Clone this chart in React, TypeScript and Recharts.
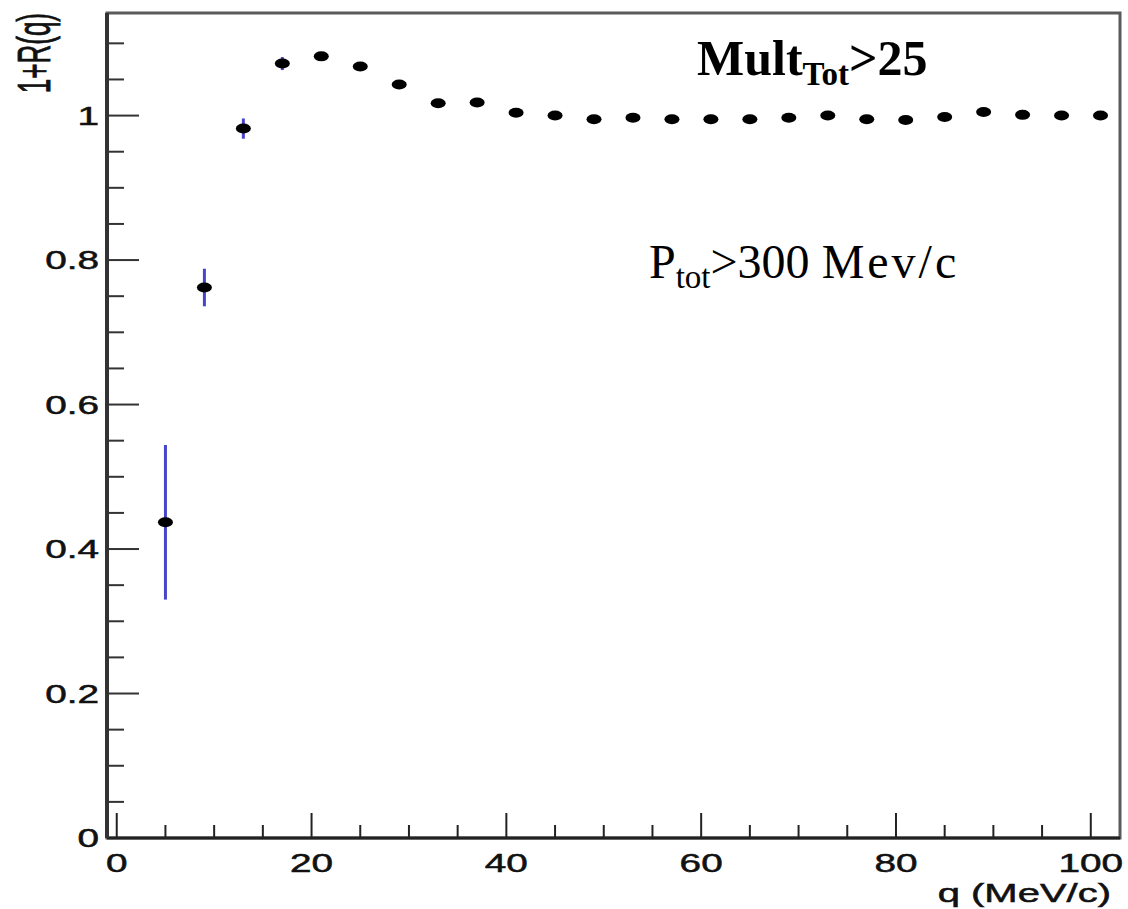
import { ScatterChart, Scatter, XAxis, YAxis, ErrorBar, ReferenceArea, Customized } from 'recharts';

// q bins (MeV/c) and measured 1+R(q)
const qValues = [5, 9, 13, 17, 21, 25, 29, 33, 37, 41, 45, 49, 53, 57, 61, 65, 69, 73, 77, 81, 85, 89, 93, 97, 101];
const ratioValues = [
  0.437, 0.762, 0.982, 1.072, 1.082, 1.068, 1.043, 1.017, 1.018, 1.004, 1.0, 0.995, 0.997,
  0.995, 0.995, 0.995, 0.997, 1.0, 0.995, 0.994, 0.998, 1.005, 1.001, 1.0, 1.0,
];
const ratioErrors = [
  0.107, 0.026, 0.014, 0.009, 0.006, 0.006, 0.005, 0.005, 0.005, 0.005, 0.005, 0.005, 0.005,
  0.005, 0.005, 0.005, 0.005, 0.005, 0.005, 0.005, 0.005, 0.005, 0.005, 0.005, 0.005,
];

const xTicks = [0, 5, 10, 15, 20, 25, 30, 35, 40, 45, 50, 55, 60, 65, 70, 75, 80, 85, 90, 95, 100];
const xLabels = [0, 20, 40, 60, 80, 100];
const yTicks = [
  0, 0.05, 0.1, 0.15, 0.2, 0.25, 0.3, 0.35, 0.4, 0.45, 0.5, 0.55, 0.6, 0.65, 0.7, 0.75, 0.8, 0.85,
  0.9, 0.95, 1, 1.05, 1.1,
];
const yLabels = [0, 0.2, 0.4, 0.6, 0.8, 1];

const rows = qValues.map((q, i) => ({ q, v: ratioValues[i], err: ratioErrors[i] }));

const SANS = '"Liberation Sans", Arial, sans-serif';
const SERIF = '"Liberation Serif", "Times New Roman", serif';
const STRETCH = 1.55;

// ROOT-style labels: wide Helvetica, slightly heavy
const labelStyle = { fontFamily: SANS, fontSize: 25, fill: '#111', stroke: '#111', strokeWidth: 0.5 };

const XTick = (props: any) => {
  const { x, y, payload } = props;
  const v = payload.value;
  const major = xLabels.some((l) => Math.abs(l - v) < 1e-6);
  return (
    <g>
      <line x1={x} y1={y} x2={x} y2={y - (major ? 25 : 13)} stroke="#222" strokeWidth={2} />
      {major && (
        <text transform={`translate(${x},${y + 34}) scale(${STRETCH},1)`} textAnchor="middle" {...labelStyle}>
          {v}
        </text>
      )}
    </g>
  );
};

const YTick = (props: any) => {
  const { x, y, payload } = props;
  const v = payload.value;
  const major = yLabels.some((l) => Math.abs(l - v) < 1e-6);
  return (
    <g>
      {v > 0 && <line x1={x} y1={y} x2={x + (major ? 32 : 17)} y2={y} stroke="#333" strokeWidth={2} />}
      {major && (
        <text transform={`translate(${x - 8},${y + 9}) scale(${STRETCH},1)`} textAnchor="end" {...labelStyle}>
          {v}
        </text>
      )}
    </g>
  );
};

const Dot = (props: any) => <ellipse cx={props.cx} cy={props.cy} rx={7.5} ry={5} fill="#000" />;

// axis titles and the selection-cut captions
const Annotations = () => (
  <g>
    <text transform={`translate(50,13) scale(1.8,1) rotate(-90)`} textAnchor="end" {...labelStyle} fontSize={26}>
      1+R(q)
    </text>
    <text transform={`translate(1111,902) scale(1.6,1)`} textAnchor="end" {...labelStyle}>
      q (MeV/c)
    </text>
    <text x={697} y={75} fontFamily={SERIF} fontWeight="bold" fontSize={50} fill="#000">
      <tspan>Mult</tspan>
      <tspan fontSize={33} dy={10}>Tot</tspan>
      <tspan dy={-10}>&gt;25</tspan>
    </text>
    <text x={649} y={278} fontFamily={SERIF} fontSize={48} fill="#000">
      <tspan>P</tspan>
      <tspan fontSize={33} dy={10}>tot</tspan>
      <tspan dy={-10}>&gt;300 </tspan>
      <tspan letterSpacing={3}>Mev/c</tspan>
    </text>
  </g>
);

export default function App() {
  return (
    <div style={{ position: 'absolute', left: 0, top: 0, background: '#fff' }}>
      <ScatterChart width={1128} height={909} margin={{ top: 13, right: 8, bottom: 41, left: 47 }}>
        <ReferenceArea
          x1={-1}
          x2={103}
          y1={0}
          y2={1.142}
          fill="none"
          stroke="#5a5a5a"
          strokeWidth={3}
        />
        <XAxis
          type="number"
          dataKey="q"
          domain={[-1, 103]}
          ticks={xTicks}
          allowDataOverflow
          height={30}
          tickSize={0}
          tickMargin={0}
          tickLine={false}
          interval={0}
          axisLine={{ stroke: '#222', strokeWidth: 3 }}
          tick={XTick}
        />
        <YAxis
          type="number"
          dataKey="v"
          domain={[0, 1.142]}
          ticks={yTicks}
          allowDataOverflow
          width={60}
          tickSize={0}
          tickMargin={0}
          tickLine={false}
          interval={0}
          axisLine={{ stroke: '#333', strokeWidth: 4 }}
          tick={YTick}
        />
        <Scatter data={rows} shape={Dot} isAnimationActive={false}>
          <ErrorBar dataKey="err" direction="y" width={0} stroke="#4646c8" strokeWidth={3} />
        </Scatter>
        <Customized component={Annotations} />
      </ScatterChart>
    </div>
  );
}
